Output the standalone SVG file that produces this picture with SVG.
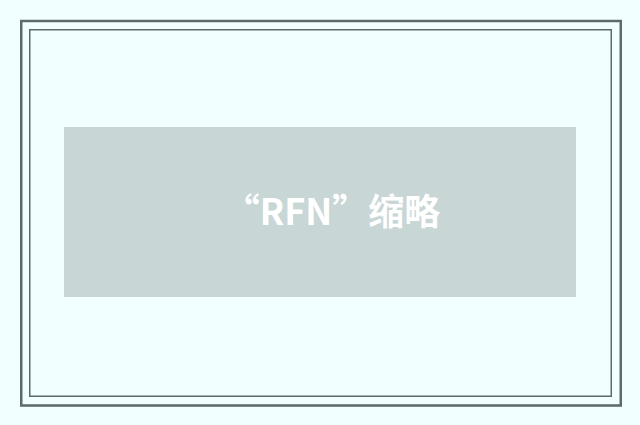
<svg xmlns="http://www.w3.org/2000/svg" width="640" height="425" viewBox="0 0 640 425">
<style>
.frame{fill:none;stroke:#5b6b6a}
.title{font-family:"Noto Sans CJK SC","Noto Sans",sans-serif;font-weight:bold;font-size:36px;fill:#ffffff}
</style>
<rect x="0" y="0" width="640" height="425" fill="#f2ffff"/>
<rect class="frame" x="21.25" y="21" width="599.5" height="384.5" stroke-width="2.5"/>
<rect class="frame" x="29.75" y="29.75" width="581.5" height="366.5" stroke-width="1.5"/>
<g id="banner">
<rect x="64" y="127" width="512" height="170" fill="#c8d6d5"/>
<text class="title" x="332" y="225" text-anchor="middle">“RFN”缩略</text>
</g>
</svg>
